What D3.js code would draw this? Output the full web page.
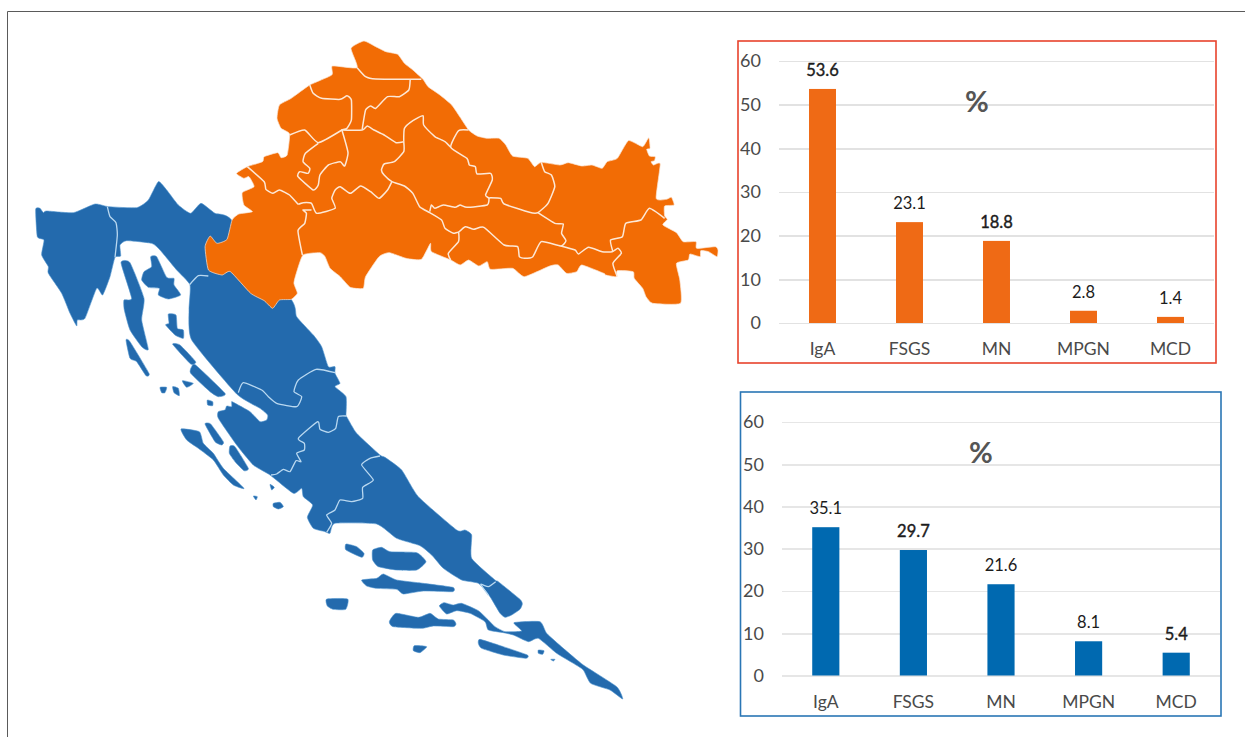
<!DOCTYPE html>
<html>
<head>
<meta charset="utf-8">
<script src="https://cdn.jsdelivr.net/npm/d3@7"></script>
<style>
    html, body { margin: 0; background: #fff; }
    svg { display: block; }
    text { font-family: Lato, sans-serif; }
    .tick line, .domain { shape-rendering: crispEdges; }
</style>
</head>
<body>
<svg id="chart" width="1245" height="737"></svg>
<script>
'use strict'

const categories = ['IgA', 'FSGS', 'MN', 'MPGN', 'MCD']
const continentalValues = [53.6, 23.1, 18.8, 2.8, 1.4]
const adriaticValues = [35.1, 29.7, 21.6, 8.1, 5.4]
const percentTicks = [0, 10, 20, 30, 40, 50, 60]
// labels the reference sets a little heavier than the others
const heavyContinental = ['53.6', '18.8']
const heavyAdriatic = ['29.7', '5.4']

// map outlines, in crop units (see toNorth/toWest/toSouth)
const northOutline = [[447,55],[485,33],[520,50],[550,65],[585,73],[605,100],[630,120],[660,148],[675,170],[710,195],[745,225],[770,262],[795,300],[820,318],[850,325],[885,325],[905,345],[925,378],[970,385],[990,410],[1010,397],[1065,405],[1090,398],[1130,408],[1160,405],[1190,415],[1205,395],[1235,385],[1268,332],[1310,350],[1328,323],[1332,355],[1322,358],[1330,378],[1347,380],[1345,392],[1335,395],[1342,405],[1362,402],[1350,505],[1380,508],[1395,502],[1403,525],[1375,528],[1375,558],[1383,568],[1370,585],[1410,608],[1430,635],[1468,635],[1470,655],[1525,650],[1533,660],[1530,680],[1505,665],[1482,662],[1480,680],[1450,672],[1445,690],[1410,700],[1420,750],[1422,820],[1340,820],[1320,800],[1310,775],[1285,745],[1282,725],[1235,722],[1232,740],[1200,735],[1195,730],[1130,705],[1115,725],[1085,730],[1060,705],[1035,708],[960,740],[925,715],[860,718],[850,695],[825,708],[795,690],[770,705],[742,690],[685,665],[682,640],[655,688],[610,685],[560,668],[530,680],[490,740],[483,775],[445,772],[415,740],[385,715],[370,680],[355,668],[305,675],[285,730],[278,760],[288,790],[270,808],[235,810],[215,835],[190,812],[150,790],[90,725],[65,735],[25,720],[15,650],[30,618],[50,640],[80,628],[95,570],[115,552],[155,545],[130,525],[125,488],[160,470],[145,440],[130,445],[108,430],[140,410],[185,395],[190,380],[230,368],[240,383],[258,375],[265,312],[240,295],[228,265],[235,225],[270,205],[325,165],[390,135],[392,108],[465,113]]

const northBorders = [
    [[465,113],[490,140],[520,147],[655,148]],
    [[622,150],[618,180],[590,200],[555,200],[520,235],[505,228],[490,240],[480,298]],
    [[325,165],[335,190],[360,205],[415,208],[435,197],[448,210],[448,270],[435,295],[420,300],[480,300],[495,288],[515,300],[545,315],[580,338],[603,335]],
    [[603,335],[605,295],[630,272],[660,257],[662,285],[695,320],[705,325],[725,335],[742,352]],
    [[795,300],[765,302],[742,352],[790,385],[797,405],[815,410],[820,432],[860,430],[865,450],[845,495],[855,505],[850,525],[790,532],[770,525],[755,532],[720,525],[695,535],[685,525],[680,545]],
    [[603,335],[603,365],[575,395],[545,402],[537,420],[545,435],[568,455],[605,468],[630,490],[650,530],[680,548],[715,570],[725,595],[750,610],[765,607],[765,635],[735,670],[742,690]],
    [[568,455],[555,480],[530,505],[505,485],[475,468],[445,490],[415,470],[400,480],[390,505],[400,535],[345,550],[330,520],[305,518],[290,522],[265,495],[235,480],[215,490],[195,478],[190,455],[140,410]],
    [[420,300],[350,338],[310,300],[265,315]],
    [[420,300],[438,368],[428,408],[415,395],[380,405],[355,435],[350,465],[335,480],[290,440],[295,425],[320,430],[325,415],[305,395],[312,370],[350,340]],
    [[330,540],[305,540],[315,550],[310,580],[290,602],[303,675]],
    [[1010,397],[1020,425],[1040,435],[1050,470],[1030,520],[1000,548],[975,547],[900,522],[890,505],[860,503],[855,505]],
    [[1000,548],[1050,580],[1075,582],[1070,610],[1083,632],[1068,648],[1010,635],[985,680],[960,685],[945,680],[940,650],[900,645],[840,592],[810,598],[785,590],[765,607]],
    [[1068,648],[1110,660],[1120,672],[1150,652],[1190,665],[1220,665],[1237,655],[1247,670],[1222,700],[1235,740]],
    [[1222,665],[1215,630],[1250,620],[1260,580],[1305,570],[1330,535],[1375,565]]
]

// blue mainland comes in two runs, the eastern edge under the orange is hidden anyway
const coastWestA = [[47,118],[60,115],[70,128],[80,123],[160,128],[225,102],[265,110],[350,113],[385,90],[415,35],[440,60],[475,105],[512,130],[543,100],[585,130],[635,150],[815,390],[830,440],[880,495],[905,530],[925,590],[945,590],[945,610],[960,640],[945,650],[978,680],[978,738]]
const coastSouth = [[530,50],[560,100],[630,165],[645,172],[695,210],[745,290],[860,390],[885,390],[905,405],[905,475],[975,540],[985,545],[1050,598],[1057,612],[1050,628],[1025,645],[1005,652],[990,640],[960,590],[925,550],[875,540],[820,505],[785,465],[750,437],[680,415],[620,372],[495,370],[480,400],[465,395],[430,385],[412,352],[428,315],[400,290],[395,265],[370,280],[300,225],[250,195],[200,135],[145,55],[145,35],[165,30],[170,18],[185,20],[185,5]]
const coastWestB = [[640,697],[690,725],[720,755],[740,750],[743,735],[720,715],[650,672],[515,510],[507,420],[510,345],[470,300],[420,240],[395,220],[320,212],[300,225],[302,258],[285,262],[270,320],[248,375],[230,355],[195,445],[172,450],[170,468],[150,430],[125,370],[85,310],[85,290],[65,255],[72,210],[52,200]]

const westIslands = [
    [[303,278],[330,278],[372,385],[365,450],[385,538],[365,530],[330,480],[313,420],[312,390],[335,385]],
    [[318,510],[330,515],[387,610],[378,617],[350,575],[330,565]],
    [[392,260],[410,260],[440,322],[462,325],[462,345],[482,375],[445,387],[415,375],[418,355],[385,352],[365,330],[372,305],[395,290]],
    [[445,432],[468,435],[472,475],[490,480],[490,505],[465,495],[437,465],[447,460]],
    [[458,523],[480,525],[527,575],[512,582]],
    [[515,590],[527,585],[615,670],[595,680],[570,665],[512,610]],
    [[487,632],[520,640],[500,652]],
    [[420,652],[440,652],[435,668],[425,668]],
    [[458,650],[475,655],[478,677],[462,668]],
    [[562,690],[578,695],[578,707],[563,705]]
]

const southIslands = [
    [[608,450],[635,442],[660,455],[740,458],[768,485],[740,510],[680,510],[625,500],[608,480]],
    [[528,432],[560,440],[582,460],[575,472],[528,450]],
    [[575,540],[620,535],[640,522],[680,540],[760,550],[848,562],[848,575],[760,573],[700,582],[680,568],[620,565],[590,558]],
    [[470,597],[533,597],[527,628],[490,628],[472,618]],
    [[658,665],[678,640],[745,652],[780,640],[805,657],[850,660],[858,672],[850,680],[790,678],[755,685],[670,680]],
    [[733,737],[770,740],[750,758],[730,752]],
    [[930,718],[1000,740],[1072,765],[1068,775],[1000,765],[935,745],[925,730]],
    [[1105,750],[1122,752],[1118,763],[1105,760]],
    [[1142,778],[1155,778],[1150,783]],
    [[33,87],[88,95],[100,130],[130,160],[160,205],[222,265],[190,255],[160,225],[130,180],[85,145],[50,120]],
    [[105,72],[122,72],[160,125],[155,135],[135,125]],
    [[180,138],[195,140],[235,205],[222,212],[195,185],[178,160]],
    [[300,253],[313,262],[305,270]],
    [[250,288],[262,290],[258,300]],
    [[310,310],[330,307],[340,320],[325,327],[310,320]],
    [[808,618],[822,608],[850,615],[875,610],[925,632],[955,660],[975,680],[1005,695],[1055,693],[1032,668],[1110,665],[1130,700],[1180,745],[1240,795],[1340,860],[1358,897],[1320,870],[1262,850],[1240,810],[1210,790],[1160,760],[1105,715],[1075,725],[1030,705],[1000,698],[955,690],[945,665],[900,640],[860,632],[830,642]]
]

const westBorders = [
    [[262,110],[270,140],[288,158],[292,195],[285,262]],
    [[508,345],[535,317],[565,318]],
    [[945,608],[888,598],[835,630],[822,665],[845,680],[830,710],[770,700],[745,680],[725,660],[670,638],[655,668]]
]

const southBorders = [
    [[530,48],[505,50],[497,85],[475,97],[450,88],[443,65],[385,115],[403,130],[403,150],[380,160],[393,185],[378,182],[360,215],[340,208],[320,222],[303,225]],
    [[630,168],[600,175],[575,195],[610,240],[578,262],[578,295],[545,305],[510,300],[495,330],[470,345],[485,370],[470,397]],
    [[977,545],[955,560],[932,553],[955,585]]
]

const mapOrange = '#f26c05'
const mapBlue = '#236aad'

const svg = d3.select('#chart')

// crop units back to page pixels
const northX = d3.scaleLinear().domain([0, 1533]).range([200, 718])
const northY = d3.scaleLinear().domain([0, 870]).range([30, 320])
const westX = d3.scaleLinear().domain([0, 1020]).range([20, 360])
const westY = d3.scaleLinear().domain([0, 900]).range([170, 470])
const southX = d3.scaleLinear().domain([0, 1380]).range([170, 630])
const southY = d3.scaleLinear().domain([0, 930]).range([400, 710])

const toNorth = p => [northX(p[0]), northY(p[1])]
const toWest = p => [westX(p[0]), westY(p[1])]
const toSouth = p => [southX(p[0]), southY(p[1])]

const line = d3.line()
// the coastline in the picture is soft, but full catmull-rom went too blobby
const softClosed = d3.line().curve(d3.curveCardinalClosed.tension(0.5))
const softOpen = d3.line().curve(d3.curveCardinal.tension(0.5))

function drawFrame() {
    svg.append('path')
        .attr('d', line([[1245, 11.5], [7.5, 11.5], [7.5, 737]]))
        .attr('fill', 'none')
        .attr('stroke', '#5a5a5a')
        .attr('stroke-width', 1)
}

function drawMap() {
    const map = svg.append('g').attr('class', 'map')
    const mainland = coastWestA.map(toWest)
        .concat(coastSouth.map(toSouth), coastWestB.map(toWest))
    const islands = westIslands.map(s => s.map(toWest))
        .concat(southIslands.map(s => s.map(toSouth)))

    map.selectAll('.land')
        .data([mainland].concat(islands))
        .enter()
        .append('path')
        .attr('class', 'land')
        .attr('d', softClosed)
        .attr('fill', mapBlue)
        .attr('stroke', '#4f93cf')
        .attr('stroke-width', 0.6)
        .attr('stroke-linejoin', 'round')

    map.append('path')
        .attr('d', softClosed(northOutline.map(toNorth)))
        .attr('fill', mapOrange)
        .attr('stroke', '#fbe3d0')
        .attr('stroke-width', 0.7)
        .attr('stroke-linejoin', 'round')

    const borders = function (rows, convert, colour, width) {
        map.selectAll(null)
            .data(rows)
            .enter()
            .append('path')
            .attr('d', d => softOpen(d.map(convert)))
            .attr('fill', 'none')
            .attr('stroke', colour)
            .attr('stroke-width', width)
            .attr('stroke-linejoin', 'round')
    }
    borders(northBorders, toNorth, '#fde8d6', 1.5)
    borders(westBorders, toWest, '#b9d8f0', 1.3)
    borders(southBorders, toSouth, '#b9d8f0', 1.3)
}

// One bar panel: box, gridlines from the y axis, bars, labels
function drawPanel(values, heavy, opts) {
    const g = svg.append('g').attr('class', 'panel')

    const x = d3.scaleBand()
        .domain(categories)
        .range([opts.left, opts.right])
        .paddingInner(0.69)
        .paddingOuter(0.345)
    const y = d3.scaleLinear()
        .domain([0, 60])
        .range([opts.zero, opts.top])

    const yAxis = g.append('g')
        .attr('transform', 'translate(' + opts.left + ',0)')
        .call(d3.axisLeft(y)
            .tickValues(percentTicks)
            .tickSize(-(opts.right - opts.left))
            .tickPadding(opts.tickGap))
    yAxis.select('.domain').remove()
    yAxis.selectAll('line').attr('stroke', opts.grid).attr('stroke-width', 1.6)
    yAxis.selectAll('text')
        .attr('fill', '#4a4a4a')
        .style('font-size', '18px')

    g.selectAll('.bar')
        .data(values)
        .enter()
        .append('rect')
        .attr('class', 'bar')
        .attr('x', (d, i) => x(categories[i]))
        .attr('y', d => y(d))
        .attr('width', x.bandwidth())
        .attr('height', d => y(0) - y(d))
        .attr('fill', opts.bar)

    g.selectAll('.value')
        .data(values)
        .enter()
        .append('text')
        .attr('class', 'value')
        .attr('x', (d, i) => x(categories[i]) + x.bandwidth() / 2)
        .attr('y', d => y(d) - 13)
        .attr('text-anchor', 'middle')
        .attr('fill', '#1c1c1c')
        .attr('stroke', '#1c1c1c')
        // heavier labels are only slightly bolder, a real bold face overshoots
        .attr('stroke-width', d => heavy.includes(d.toFixed(1)) ? 0.4 : 0)
        .style('font-size', '16.5px')
        .text(d => d.toFixed(1))

    g.selectAll('.category')
        .data(categories)
        .enter()
        .append('text')
        .attr('class', 'category')
        .attr('x', d => x(d) + x.bandwidth() / 2)
        .attr('y', opts.zero + 32)
        .attr('text-anchor', 'middle')
        .attr('fill', '#4a4a4a')
        .style('font-size', '17.5px')
        .text(d => d)

    g.append('text')
        .attr('x', opts.percentX)
        .attr('y', opts.percentY)
        .attr('text-anchor', 'middle')
        .attr('fill', '#555')
        .style('font-size', '29px')
        .style('font-weight', 700)
        .text('%')

    g.append('rect')
        .attr('x', opts.box[0])
        .attr('y', opts.box[1])
        .attr('width', opts.box[2] - opts.box[0])
        .attr('height', opts.box[3] - opts.box[1])
        .attr('fill', 'none')
        .attr('stroke', opts.edge)
        .attr('stroke-width', 1.6)
}

drawFrame()
drawMap()
drawPanel(continentalValues, heavyContinental, {
    left: 779, right: 1214, top: 61, zero: 323, tickGap: 18,
    box: [738, 41, 1216, 363],
    percentX: 977, percentY: 112,
    bar: '#ef6a15', grid: '#e2e2e2', edge: '#e8432c',
})
drawPanel(adriaticValues, heavyAdriatic, {
    left: 782, right: 1220, top: 422, zero: 675.5, tickGap: 18,
    box: [740.5, 392, 1221, 716],
    percentX: 981, percentY: 463,
    bar: '#0069b0', grid: '#e6e6e6', edge: '#2a76b5',
})
</script>
</body>
</html>
